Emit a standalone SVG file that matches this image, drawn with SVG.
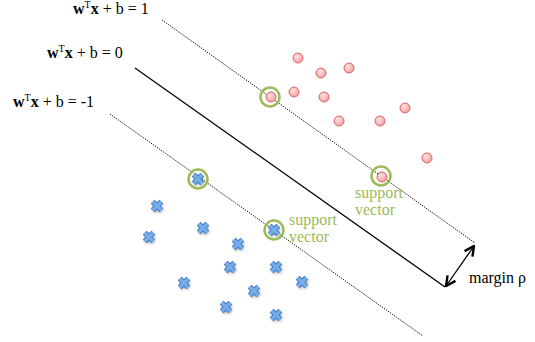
<svg xmlns="http://www.w3.org/2000/svg" xmlns:xlink="http://www.w3.org/1999/xlink" width="535" height="342" viewBox="0 0 535 342">
<style>
text{font-family:"Liberation Serif","Times New Roman",serif;font-size:16px;fill:#000}
.b{font-weight:bold}
.sup{font-size:10px}
.sv{fill:#9bbb59}
.ring{fill:none;stroke:#9bbb59;stroke-width:2.5}
.dot{fill:url(#rg);stroke:#e06666;stroke-width:1}
.dotted{stroke:#000;stroke-width:1;stroke-dasharray:1.2 1.2;fill:none}
.solid{stroke:#000;stroke-width:1.3;fill:none}
</style>
<defs>
<radialGradient id="rg" cx="0.4" cy="0.35" r="0.7">
<stop offset="0" stop-color="#fde3e3"/>
<stop offset="1" stop-color="#f29a9a"/>
</radialGradient>
<filter id="sh" x="-50%" y="-50%" width="200%" height="200%">
<feGaussianBlur stdDeviation="0.8"/>
</filter>
<g id="cross">
<path d="M-4.3,-4.3L4.3,4.3M-4.3,4.3L4.3,-4.3" transform="translate(0.8,1.5)" stroke="#888" stroke-width="5.5" opacity="0.5" filter="url(#sh)"/>
<path d="M-4.3,-4.3L4.3,4.3M-4.3,4.3L4.3,-4.3" stroke="#4279bd" stroke-width="5.4"/>
<path d="M-4.3,-4.3L4.3,4.3M-4.3,4.3L4.3,-4.3" stroke="#74adea" stroke-width="3.4"/>
</g>
<marker id="ah" markerWidth="12" markerHeight="12" refX="9" refY="5" orient="auto-start-reverse" markerUnits="userSpaceOnUse" viewBox="0 0 10 10">
<path d="M1,1L9,5L1,9" fill="none" stroke="#000" stroke-width="2"/>
</marker>
</defs>
<g id="connectors">
<line class="dotted" x1="162" y1="20" x2="475" y2="243"/>
<line class="solid" x1="135" y1="68" x2="445" y2="287"/>
<line class="dotted" x1="110" y1="114" x2="423" y2="336"/>
<line x1="446" y1="286" x2="474" y2="246" stroke="#000" stroke-width="1.3" marker-start="url(#ah)" marker-end="url(#ah)"/>
</g>
<g id="label-plus1"><text x="73" y="14"><tspan class="b">w</tspan><tspan class="sup" dy="-6">T</tspan><tspan class="b" dy="6">x</tspan> + b = 1</text></g>
<g id="label-zero"><text x="47" y="58"><tspan class="b">w</tspan><tspan class="sup" dy="-6">T</tspan><tspan class="b" dy="6">x</tspan> + b = 0</text></g>
<g id="label-minus1"><text x="13" y="107"><tspan class="b">w</tspan><tspan class="sup" dy="-6">T</tspan><tspan class="b" dy="6">x</tspan> + b = -1</text></g>
<g id="label-margin"><text x="469" y="283">margin ρ</text></g>
<g id="label-sv1"><text class="sv" x="289" y="225">support</text><text class="sv" x="289" y="242">vector</text></g>
<g id="label-sv2"><text class="sv" x="355" y="198">support</text><text class="sv" x="355" y="215">vector</text></g>
<g id="positives">
<circle class="dot" cx="298" cy="58" r="5"/>
<circle class="dot" cx="321" cy="73" r="5"/>
<circle class="dot" cx="349" cy="68" r="5"/>
<circle class="dot" cx="271" cy="97" r="5"/>
<circle class="dot" cx="294" cy="92" r="5"/>
<circle class="dot" cx="324" cy="97" r="5"/>
<circle class="dot" cx="405" cy="108" r="5"/>
<circle class="dot" cx="339" cy="121" r="5"/>
<circle class="dot" cx="380" cy="121" r="5"/>
<circle class="dot" cx="427" cy="158" r="5"/>
<circle class="dot" cx="382" cy="177" r="5"/>
</g>
<g id="negatives">
<use xlink:href="#cross" x="198" y="179"/>
<use xlink:href="#cross" x="157" y="206"/>
<use xlink:href="#cross" x="149" y="237"/>
<use xlink:href="#cross" x="203" y="228"/>
<use xlink:href="#cross" x="238" y="244"/>
<use xlink:href="#cross" x="274" y="230"/>
<use xlink:href="#cross" x="230" y="267"/>
<use xlink:href="#cross" x="276" y="267"/>
<use xlink:href="#cross" x="184" y="283"/>
<use xlink:href="#cross" x="302" y="282"/>
<use xlink:href="#cross" x="254" y="291"/>
<use xlink:href="#cross" x="226" y="307"/>
<use xlink:href="#cross" x="276" y="315"/>
</g>
<g id="support-rings">
<circle class="ring" cx="270" cy="97" r="9.5"/>
<circle class="ring" cx="381" cy="176" r="9.5"/>
<circle class="ring" cx="198" cy="179" r="9.5"/>
<circle class="ring" cx="274" cy="230" r="9.5"/>
</g>
</svg>
